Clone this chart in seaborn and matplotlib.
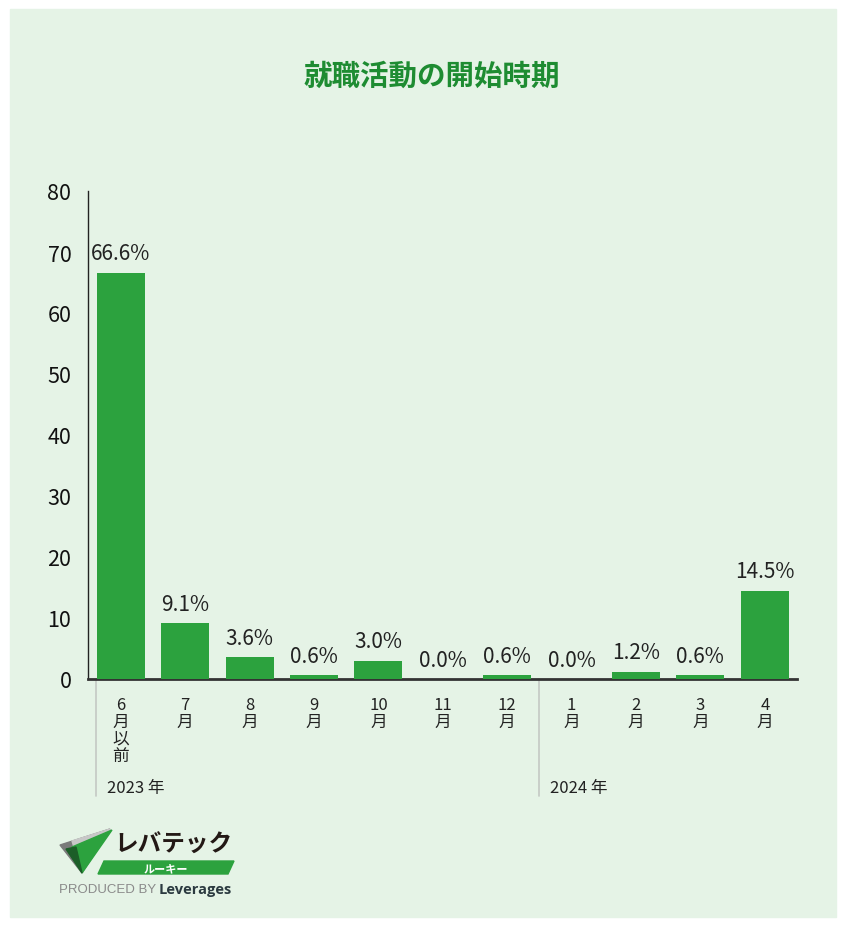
import matplotlib
matplotlib.use("Agg")
import matplotlib.pyplot as plt
import matplotlib.patches as mpatches
import matplotlib.transforms as mtransforms
import seaborn as sns
import pandas as pd

# data
months = ["6月以前", "7月", "8月", "9月", "10月", "11月", "12月", "1月", "2月", "3月", "4月"]
tick_labels = ["6\n月\n以\n前", "7\n月", "8\n月", "9\n月", "10\n月", "11\n月", "12\n月",
               "1\n月", "2\n月", "3\n月", "4\n月"]
shares = [66.6, 9.1, 3.6, 0.6, 3.0, 0.0, 0.6, 0.0, 1.2, 0.6, 14.5]
years = ["2023 年", "2024 年"]
year_start = [0, 7]

df = pd.DataFrame({"month": months, "share": shares})

sns.set_theme(style="white")
plt.rcParams["font.family"] = ["Noto Sans CJK JP", "DejaVu Sans"]

BG = "#e5f3e6"
GREEN = "#2ca23e"

fig = plt.figure(figsize=(8.46, 9.28), dpi=100, facecolor="white")
fig.patches.append(mpatches.Rectangle((10 / 846, 10 / 928), 826 / 846, 908 / 928,
                                      transform=fig.transFigure, color=BG, zorder=-10))

ax = fig.add_axes([88 / 846, 1 - 680 / 928, 709 / 846, 488 / 928])
ax.set_facecolor("none")
sns.barplot(data=df, x="month", y="share", color=GREEN, width=0.745,
            saturation=1, linewidth=0, ax=ax, zorder=3)

ax.set_xlim(-0.51, 10.5)
ax.set_ylim(0, 80)
ax.set_yticks(range(0, 81, 10))
ax.tick_params(axis="y", length=0, pad=12, labelsize=15.5, labelcolor="#111111")
ax.tick_params(axis="x", length=0, pad=12)
ax.set_xticks(range(len(months)))
ax.set_xticklabels(tick_labels, fontsize=12, linespacing=1.0, color="#222222")
ax.set_xlabel("")
ax.set_ylabel("")

for side in ["top", "right"]:
    ax.spines[side].set_visible(False)
ax.spines["left"].set_color("#222222")
ax.spines["left"].set_linewidth(1.0)
ax.spines["bottom"].set_color("#333333")
ax.spines["bottom"].set_linewidth(2.0)

# value labels
for i, v in enumerate(shares):
    ax.annotate(f"{v:.1f}%", (i, v), xytext=(0, 6), textcoords="offset points",
                ha="center", va="bottom", fontsize=15, color="#222222")

# year separators and labels
trans = mtransforms.blended_transform_factory(ax.transData, ax.transAxes)
for start, label in zip(year_start, years):
    xline = start - 0.5 if start > 0 else -0.38
    ax.plot([xline, xline], [0, -0.24], transform=trans, color="#c4c8c4",
            lw=1.2, clip_on=False, zorder=1)
    ax.text(xline + 0.17, -0.222, label, transform=trans, ha="left", va="center",
            fontsize=12, color="#222222")

# title
fig.text(432 / 846, 1 - 77 / 928, "就職活動の開始時期", ha="center", va="center",
         fontsize=20.5, fontweight="bold", color="#1e8c32")

# logo
def fpt(x, y):
    return (x / 846, 1 - y / 928)

fig.patches.append(mpatches.Polygon([fpt(60, 846), fpt(110, 830), fpt(82, 874)],
                                    closed=True, transform=fig.transFigure,
                                    color="#7a7a7a", zorder=5))
fig.patches.append(mpatches.Polygon([fpt(72, 842), fpt(110, 830), fpt(82, 874)],
                                    closed=True, transform=fig.transFigure,
                                    color="#c8c8c8", zorder=5))
fig.patches.append(mpatches.Polygon([fpt(72, 848), fpt(112, 831), fpt(82, 874)],
                                    closed=True, transform=fig.transFigure,
                                    color=GREEN, zorder=6))
fig.patches.append(mpatches.Polygon([fpt(66, 850), fpt(76, 848), fpt(82, 874)],
                                    closed=True, transform=fig.transFigure,
                                    color="#1c5e28", zorder=7))
fig.text(*fpt(114, 845), "レバテック", ha="left", va="center", fontsize=17,
         fontweight="bold", color="#231815", zorder=10)
fig.patches.append(mpatches.Polygon([fpt(104, 862), fpt(234, 862), fpt(228, 875),
                                     fpt(98, 875)], closed=True,
                                    transform=fig.transFigure, color=GREEN, zorder=5))
fig.text(*fpt(166, 868.5), "ルーキー", ha="center", va="center", fontsize=8,
         fontweight="bold", color="white", zorder=10)
fig.text(*fpt(59, 890), "PRODUCED BY", ha="left", va="center", fontsize=9.5,
         color="#8a8a8a", family=["Liberation Sans", "DejaVu Sans"], zorder=10)
fig.text(*fpt(159, 890), "Leverages", ha="left", va="center", fontsize=10.5,
         fontweight="bold", color="#2b3a40", family=["Open Sans", "DejaVu Sans"],
         zorder=10)

fig.savefig("out.png", dpi=100, facecolor="white")
